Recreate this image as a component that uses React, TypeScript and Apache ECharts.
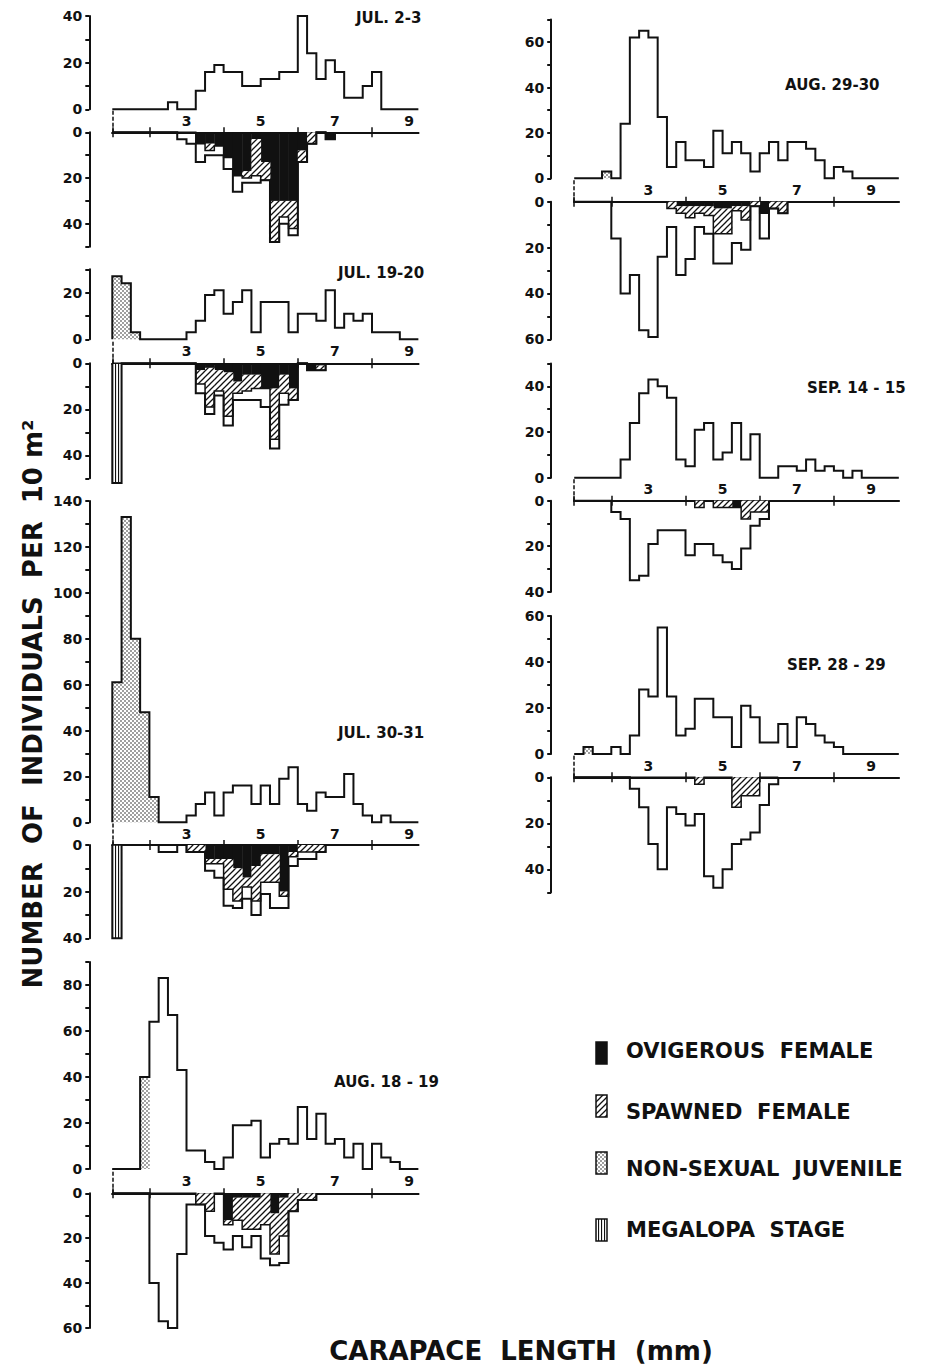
import React, { useEffect, useRef } from "react";
import * as echarts from "echarts";

// ---------- bins ----------
const BIN_START = 1; // mm, left edge of the first size class
const BIN_WIDTH = 0.25; // mm

// ---------- labels ----------
const panelDates = ["JUL. 2-3", "JUL. 19-20", "JUL. 30-31", "AUG. 18 - 19", "AUG. 29-30", "SEP. 14 - 15", "SEP. 28 - 29"];
const stripTickValues = [1, 2, 4, 6, 8];
const stripLabelValues = [3, 5, 7, 9];
const legendLabels = ["OVIGEROUS  FEMALE", "SPAWNED  FEMALE", "NON-SEXUAL  JUVENILE", "MEGALOPA  STAGE"];
const yTitle = "NUMBER  OF  INDIVIDUALS  PER  10 m²";
const xTitle = "CARAPACE  LENGTH  (mm)";

// ---------- data (index k = size class 1 + 0.25k mm) ----------
// JUL. 2-3
const jul2UpperTotal = [0, 0, 0, 0, 0, 0, 3, 0, 0, 8, 16, 19, 16, 16, 10, 10, 13, 13, 16, 16, 40, 24, 13, 21, 16, 5, 5, 10, 16, 0, 0, 0, 0];
const jul2UpperJuvenile: number[] = [];
const jul2LowerTotal = [0, 0, 0, 0, 0, 0, 0, 3, 5, 13, 10, 10, 16, 26, 22, 22, 21, 48, 40, 45, 13, 5, 0, 3];
const jul2LowerOvigerous = [0, 0, 0, 0, 0, 0, 0, 0, 0, 5, 5, 6, 11, 19, 17, 3, 13, 30, 30, 30, 8, 0, 0, 3];
const jul2LowerSpawned = [0, 0, 0, 0, 0, 0, 0, 0, 0, 0, 3, 0, 0, 0, 3, 16, 8, 18, 7, 12, 5, 5, 0, 0];
const jul2LowerMegalopa: number[] = [];

// JUL. 19-20
const jul19UpperTotal = [27, 24, 3, 0, 0, 0, 0, 0, 3, 8, 19, 21, 11, 16, 21, 3, 16, 16, 16, 3, 11, 11, 8, 21, 5, 11, 8, 11, 3, 3, 3, 0, 0];
const jul19UpperJuvenile = [27, 24, 3];
const jul19LowerTotal = [52, 0, 0, 0, 0, 0, 0, 0, 0, 13, 22, 14, 27, 16, 16, 16, 19, 37, 18, 16, 0, 3, 3];
const jul19LowerOvigerous = [0, 0, 0, 0, 0, 0, 0, 0, 0, 3, 2, 3, 4, 8, 5, 5, 11, 11, 5, 11, 0, 3, 1];
const jul19LowerSpawned = [0, 0, 0, 0, 0, 0, 0, 0, 0, 6, 17, 9, 19, 5, 7, 6, 0, 22, 8, 5, 0, 0, 2];
const jul19LowerMegalopa = [52];

// JUL. 30-31
const jul30UpperTotal = [61, 133, 80, 48, 11, 0, 0, 0, 3, 8, 13, 3, 13, 16, 16, 8, 16, 8, 19, 24, 8, 5, 13, 11, 11, 21, 8, 3, 0, 3, 0, 0, 0];
const jul30UpperJuvenile = [61, 133, 80, 48, 11];
const jul30LowerTotal = [40, 0, 0, 0, 0, 3, 3, 0, 3, 3, 11, 14, 26, 27, 23, 30, 21, 27, 27, 9, 6, 6, 3];
const jul30LowerOvigerous = [0, 0, 0, 0, 0, 0, 0, 0, 0, 0, 6, 6, 6, 10, 14, 9, 4, 4, 20, 3, 0, 0, 0];
const jul30LowerSpawned = [0, 0, 0, 0, 0, 0, 0, 0, 3, 3, 2, 2, 13, 14, 4, 15, 12, 12, 2, 2, 3, 3, 3];
const jul30LowerMegalopa = [40];

// AUG. 18-19
const aug18UpperTotal = [0, 0, 0, 40, 64, 83, 67, 43, 8, 8, 3, 0, 5, 19, 19, 21, 5, 11, 13, 11, 27, 13, 24, 11, 13, 5, 11, 0, 11, 5, 3, 0, 0];
const aug18UpperJuvenile = [0, 0, 0, 40];
const aug18LowerTotal = [0, 0, 0, 0, 40, 57, 60, 27, 5, 5, 19, 22, 25, 19, 24, 19, 29, 32, 31, 8, 3, 3];
const aug18LowerOvigerous = [0, 0, 0, 0, 0, 0, 0, 0, 0, 0, 0, 0, 12, 2, 2, 2, 0, 9, 2, 0, 0, 0];
const aug18LowerSpawned = [0, 0, 0, 0, 0, 0, 0, 0, 0, 5, 8, 0, 2, 10, 14, 14, 14, 18, 17, 8, 3, 3];
const aug18LowerMegalopa: number[] = [];

// AUG. 29-30
const aug29UpperTotal = [0, 0, 0, 3, 0, 24, 62, 65, 62, 27, 5, 16, 8, 8, 5, 21, 11, 16, 11, 3, 11, 16, 8, 16, 16, 13, 8, 0, 5, 3, 0, 0, 0, 0, 0];
const aug29UpperJuvenile = [0, 0, 0, 3];
const aug29LowerTotal = [0, 0, 0, 0, 16, 40, 32, 56, 59, 24, 11, 32, 25, 11, 14, 27, 27, 18, 21, 2, 16, 3, 5];
const aug29LowerOvigerous = [0, 0, 0, 0, 0, 0, 0, 0, 0, 0, 0, 2, 2, 2, 2, 3, 3, 2, 2, 0, 5, 0, 0];
const aug29LowerSpawned = [0, 0, 0, 0, 0, 0, 0, 0, 0, 0, 3, 3, 5, 3, 4, 11, 11, 2, 6, 2, 0, 3, 5];
const aug29LowerMegalopa: number[] = [];

// SEP. 14-15
const sep14UpperTotal = [0, 0, 0, 0, 0, 8, 24, 37, 43, 40, 35, 8, 5, 21, 24, 8, 11, 24, 8, 19, 0, 0, 5, 5, 3, 8, 3, 5, 3, 0, 3, 0, 0, 0, 0];
const sep14UpperJuvenile: number[] = [];
const sep14LowerTotal = [0, 0, 0, 0, 5, 8, 35, 33, 19, 13, 13, 13, 24, 19, 19, 24, 27, 30, 21, 11, 8];
const sep14LowerOvigerous = [0, 0, 0, 0, 0, 0, 0, 0, 0, 0, 0, 0, 0, 0, 0, 0, 0, 3, 0, 0, 0];
const sep14LowerSpawned = [0, 0, 0, 0, 0, 0, 0, 0, 0, 0, 0, 0, 0, 3, 0, 3, 3, 0, 8, 5, 5];
const sep14LowerMegalopa: number[] = [];

// SEP. 28-29
const sep28UpperTotal = [0, 3, 0, 0, 3, 0, 8, 28, 25, 55, 25, 8, 11, 24, 24, 16, 16, 3, 21, 16, 5, 5, 13, 3, 16, 13, 8, 5, 3, 0, 0, 0, 0, 0, 0];
const sep28UpperJuvenile = [0, 3];
const sep28LowerTotal = [0, 0, 0, 0, 0, 0, 5, 13, 29, 40, 13, 16, 21, 16, 43, 48, 40, 29, 27, 24, 12, 3];
const sep28LowerOvigerous: number[] = [];
const sep28LowerSpawned = [0, 0, 0, 0, 0, 0, 0, 0, 0, 0, 0, 0, 0, 3, 0, 0, 0, 13, 8, 8, 0, 0];
const sep28LowerMegalopa: number[] = [];

const panelData = [
  { upperTotal: jul2UpperTotal, upperJuvenile: jul2UpperJuvenile, lowerTotal: jul2LowerTotal, lowerOvigerous: jul2LowerOvigerous, lowerSpawned: jul2LowerSpawned, lowerMegalopa: jul2LowerMegalopa },
  { upperTotal: jul19UpperTotal, upperJuvenile: jul19UpperJuvenile, lowerTotal: jul19LowerTotal, lowerOvigerous: jul19LowerOvigerous, lowerSpawned: jul19LowerSpawned, lowerMegalopa: jul19LowerMegalopa },
  { upperTotal: jul30UpperTotal, upperJuvenile: jul30UpperJuvenile, lowerTotal: jul30LowerTotal, lowerOvigerous: jul30LowerOvigerous, lowerSpawned: jul30LowerSpawned, lowerMegalopa: jul30LowerMegalopa },
  { upperTotal: aug18UpperTotal, upperJuvenile: aug18UpperJuvenile, lowerTotal: aug18LowerTotal, lowerOvigerous: aug18LowerOvigerous, lowerSpawned: aug18LowerSpawned, lowerMegalopa: aug18LowerMegalopa },
  { upperTotal: aug29UpperTotal, upperJuvenile: aug29UpperJuvenile, lowerTotal: aug29LowerTotal, lowerOvigerous: aug29LowerOvigerous, lowerSpawned: aug29LowerSpawned, lowerMegalopa: aug29LowerMegalopa },
  { upperTotal: sep14UpperTotal, upperJuvenile: sep14UpperJuvenile, lowerTotal: sep14LowerTotal, lowerOvigerous: sep14LowerOvigerous, lowerSpawned: sep14LowerSpawned, lowerMegalopa: sep14LowerMegalopa },
  { upperTotal: sep28UpperTotal, upperJuvenile: sep28UpperJuvenile, lowerTotal: sep28LowerTotal, lowerOvigerous: sep28LowerOvigerous, lowerSpawned: sep28LowerSpawned, lowerMegalopa: sep28LowerMegalopa },
];

// ---------- layout (pixels) ----------
const PX_PER_MM = 37.1;
const COLUMN_LEFT = [112.3, 574.2];
const COLUMN_XMAX = [9.25, 9.75];
const Y_AXIS_OFFSET = 23;
const panelLayout = [
  { col: 0, upMax: 40, upTop: 16, zero: 109.3, stripBottom: 132.3, lowMax: 50, lowBottom: 246.7, titleX: 356, titleY: 18 },
  { col: 0, upMax: 30, upTop: 269.3, zero: 339.3, stripBottom: 363.3, lowMax: 50, lowBottom: 478.3, titleX: 338, titleY: 273 },
  { col: 0, upMax: 140, upTop: 501, zero: 822.3, stripBottom: 845, lowMax: 40, lowBottom: 938.3, titleX: 338, titleY: 733 },
  { col: 0, upMax: 90, upTop: 962, zero: 1169, stripBottom: 1193.3, lowMax: 60, lowBottom: 1328, titleX: 334, titleY: 1082 },
  { col: 1, upMax: 70, upTop: 19.4, zero: 178.3, stripBottom: 201.7, lowMax: 60, lowBottom: 339.3, titleX: 785, titleY: 85 },
  { col: 1, upMax: 50, upTop: 363.5, zero: 477.7, stripBottom: 500.7, lowMax: 40, lowBottom: 591.7, titleX: 807, titleY: 388 },
  { col: 1, upMax: 60, upTop: 616, zero: 754, stripBottom: 777.3, lowMax: 50, lowBottom: 892.3, titleX: 787, titleY: 665 },
];
const legendLayout = [
  { swatchY: 1042, textY: 1051 },
  { swatchY: 1095, textY: 1112 },
  { swatchY: 1152, textY: 1169 },
  { swatchY: 1219, textY: 1230 },
];

const INK = "#111";
const FONT = '"DejaVu Sans", "Liberation Sans", sans-serif';

function makeTile(w: number, h: number, draw: (ctx: CanvasRenderingContext2D) => void) {
  const c = document.createElement("canvas");
  c.width = w;
  c.height = h;
  const ctx = c.getContext("2d") as CanvasRenderingContext2D;
  ctx.fillStyle = "#fff";
  ctx.fillRect(0, 0, w, h);
  ctx.fillStyle = INK;
  ctx.strokeStyle = INK;
  draw(ctx);
  return { image: c, repeat: "repeat", imageWidth: w, imageHeight: h };
}

function outline(values: number[]) {
  const pts: number[][] = [[BIN_START, 0]];
  values.forEach((v, k) => {
    const x = BIN_START + k * BIN_WIDTH;
    pts.push([x, v], [x + BIN_WIDTH, v]);
  });
  pts.push([BIN_START + values.length * BIN_WIDTH, 0]);
  return pts;
}

function segments(base: number[], values: number[]) {
  const out: number[][] = [];
  values.forEach((v, k) => {
    if (v > 0) {
      const b = base[k] || 0;
      out.push([BIN_START + k * BIN_WIDTH, b, b + v]);
    }
  });
  return out;
}

function buildOption() {
  const hatch = makeTile(6, 6, (ctx) => {
    ctx.lineWidth = 1.3;
    ctx.beginPath();
    ctx.moveTo(-1, 7);
    ctx.lineTo(7, -1);
    ctx.moveTo(-1, 1);
    ctx.lineTo(1, -1);
    ctx.moveTo(5, 7);
    ctx.lineTo(7, 5);
    ctx.stroke();
  });
  const stipple = makeTile(4, 4, (ctx) => {
    ctx.beginPath();
    ctx.arc(1, 1, 0.75, 0, Math.PI * 2);
    ctx.fill();
    ctx.beginPath();
    ctx.arc(3, 3, 0.75, 0, Math.PI * 2);
    ctx.fill();
  });
  const vlines = makeTile(3, 3, (ctx) => {
    ctx.fillRect(1, 0, 1.1, 3);
  });
  const fills = { ovig: INK, spawned: hatch, juvenile: stipple, megalopa: vlines };

  const grids: any[] = [];
  const xAxes: any[] = [];
  const yAxes: any[] = [];
  const series: any[] = [];
  const graphics: any[] = [];

  const axisLabelStyle = { color: INK, fontFamily: FONT, fontWeight: "bold", fontSize: 14 };
  const axisLine = { show: true, lineStyle: { color: INK, width: 2 } };

  const rectSeries = (xi: number, yi: number, data: number[][], fill: any) => ({
    type: "custom",
    xAxisIndex: xi,
    yAxisIndex: yi,
    data,
    silent: true,
    z: 2,
    encode: { x: 0, y: [1, 2] },
    renderItem: (_p: any, api: any) => {
      const x = api.value(0);
      const y0 = api.value(1);
      const y1 = api.value(2);
      const a = api.coord([x, y0]);
      const b = api.coord([x + BIN_WIDTH, y1]);
      return {
        type: "rect",
        shape: { x: Math.min(a[0], b[0]), y: Math.min(a[1], b[1]), width: Math.abs(b[0] - a[0]) + 0.4, height: Math.abs(b[1] - a[1]) },
        style: { fill, stroke: null },
      };
    },
  });
  const lineSeries = (xi: number, yi: number, data: number[][], width: number) => ({
    type: "line",
    xAxisIndex: xi,
    yAxisIndex: yi,
    data,
    symbol: "none",
    silent: true,
    clip: false,
    z: 5,
    lineStyle: { color: INK, width, join: "miter" },
  });

  panelLayout.forEach((L, i) => {
    const d = panelData[i];
    const left = COLUMN_LEFT[L.col];
    const xmax = COLUMN_XMAX[L.col];
    const width = (xmax - BIN_START) * PX_PER_MM;

    const gU = grids.length;
    grids.push({ left, top: L.upTop, width, height: L.zero - L.upTop });
    const gS = grids.length;
    grids.push({ left, top: L.zero, width, height: L.stripBottom - L.zero });
    const gL = grids.length;
    grids.push({ left, top: L.stripBottom, width, height: L.lowBottom - L.stripBottom });

    const xBase = { type: "value", min: BIN_START, max: xmax, splitLine: { show: false } };
    const xU = xAxes.length;
    xAxes.push({ ...xBase, gridIndex: gU, show: false });
    xAxes.push({
      ...xBase,
      gridIndex: gS,
      position: "top",
      axisLine,
      axisTick: { show: true, inside: true, length: 5, customValues: stripTickValues, lineStyle: { color: INK, width: 1.5 } },
      axisLabel: { show: false },
    });
    xAxes.push({
      ...xBase,
      gridIndex: gS,
      position: "bottom",
      axisLine,
      axisTick: { show: true, inside: true, length: 5, customValues: stripTickValues, lineStyle: { color: INK, width: 1.5 } },
      axisLabel: { ...axisLabelStyle, inside: true, customValues: stripLabelValues, margin: (L.stripBottom - L.zero) / 2, verticalAlign: "middle" },
    });
    const xL = xAxes.length;
    xAxes.push({ ...xBase, gridIndex: gL, show: false });

    const yBase = (max: number, inverse: boolean) => ({
      type: "value",
      min: 0,
      max,
      interval: 10,
      inverse,
      offset: Y_AXIS_OFFSET,
      axisLine,
      axisTick: { show: true, length: 4, lineStyle: { color: INK, width: 2 } },
      axisLabel: { ...axisLabelStyle, margin: 7, formatter: (v: number) => (v % 20 === 0 ? String(v) : "") },
      splitLine: { show: false },
    });
    const yU = yAxes.length;
    yAxes.push({ ...yBase(L.upMax, false), gridIndex: gU });
    yAxes.push({
      gridIndex: gS,
      type: "value",
      min: 0,
      max: 1,
      axisLine: { show: true, lineStyle: { color: INK, width: 1.5, type: [3, 3] } },
      axisTick: { show: false },
      axisLabel: { show: false },
      splitLine: { show: false },
    });
    const yL = yAxes.length;
    yAxes.push({ ...yBase(L.lowMax, true), gridIndex: gL });

    // upper histogram
    if (d.upperJuvenile.length) series.push(rectSeries(xU, yU, segments([], d.upperJuvenile), fills.juvenile));
    series.push(lineSeries(xU, yU, outline(d.upperTotal), 2));

    // lower histogram (stacked from the axis: ovigerous, spawned, others)
    if (d.lowerMegalopa.length) series.push(rectSeries(xL, yL, segments([], d.lowerMegalopa), fills.megalopa));
    if (d.lowerOvigerous.length) series.push(rectSeries(xL, yL, segments([], d.lowerOvigerous), fills.ovig));
    if (d.lowerSpawned.length) series.push(rectSeries(xL, yL, segments(d.lowerOvigerous, d.lowerSpawned), fills.spawned));
    const n = Math.max(d.lowerOvigerous.length, d.lowerSpawned.length);
    if (n) {
      const females = Array.from({ length: n }, (_, k) => (d.lowerOvigerous[k] || 0) + (d.lowerSpawned[k] || 0));
      series.push(lineSeries(xL, yL, outline(females), 1.5));
    }
    series.push(lineSeries(xL, yL, outline(d.lowerTotal), 2));

    graphics.push({
      type: "text",
      x: L.titleX,
      y: L.titleY,
      style: { text: panelDates[i], fill: INK, font: `bold 15px ${FONT}`, align: "left", verticalAlign: "middle", textAlign: "left", textVerticalAlign: "middle" },
    });
  });

  // axis titles
  graphics.push({
    type: "text",
    x: 33,
    y: 704,
    rotation: Math.PI / 2,
    style: { text: yTitle, fill: INK, font: `bold 26px ${FONT}`, align: "center", verticalAlign: "middle", textAlign: "center", textVerticalAlign: "middle" },
  });
  graphics.push({
    type: "text",
    x: 521,
    y: 1351,
    style: { text: xTitle, fill: INK, font: `bold 26px ${FONT}`, align: "center", verticalAlign: "middle", textAlign: "center", textVerticalAlign: "middle" },
  });

  // legend
  const legendFills = [fills.ovig, fills.spawned, fills.juvenile, fills.megalopa];
  legendLabels.forEach((label, i) => {
    graphics.push({
      type: "rect",
      shape: { x: 596, y: legendLayout[i].swatchY, width: 11, height: 22 },
      style: { fill: legendFills[i], stroke: INK, lineWidth: 1.5 },
    });
    graphics.push({
      type: "text",
      x: 626,
      y: legendLayout[i].textY,
      style: { text: label, fill: INK, font: `bold 21px ${FONT}`, align: "left", verticalAlign: "middle", textAlign: "left", textVerticalAlign: "middle" },
    });
  });

  return {
    animation: false,
    backgroundColor: "#fff",
    grid: grids,
    xAxis: xAxes,
    yAxis: yAxes,
    series,
    graphic: { elements: graphics },
  };
}

export default function App() {
  const ref = useRef<HTMLDivElement>(null);
  useEffect(() => {
    if (!ref.current) return;
    const chart = echarts.init(ref.current, null, { renderer: "svg" });
    chart.setOption(buildOption() as any);
    return () => chart.dispose();
  }, []);
  return <div ref={ref} style={{ position: "absolute", left: 0, top: 0, width: 926, height: 1372, background: "#fff" }} />;
}
